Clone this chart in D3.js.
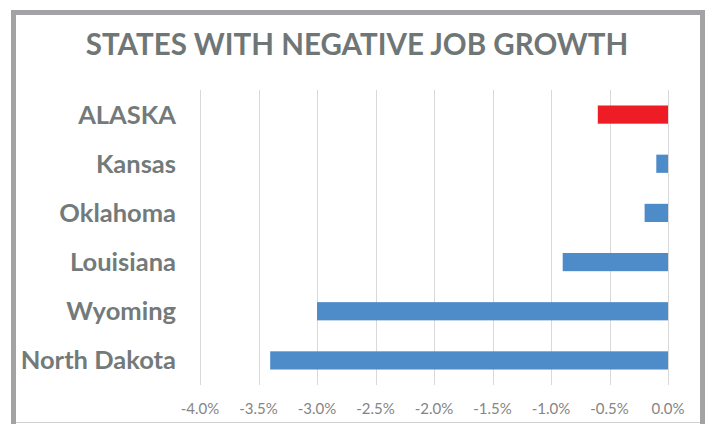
<!DOCTYPE html>
<html lang="en">
<head>
  <meta charset="UTF-8">
  <title>States with Negative Job Growth</title>
  <script src="https://d3js.org/d3.v7.min.js"></script>
  <style>
    * { margin: 0; padding: 0; box-sizing: border-box; }
    body { background: #fff; width: 711px; height: 424px; overflow: hidden; }
    svg { display: block; font-family: Lato, 'Open Sans', sans-serif; }
    .grid line { stroke: #d9d9d9; stroke-width: 1; }
    .tick-label { fill: #858585; font-size: 15px; }
    .cat-label { fill: #737a7a; font-size: 25.5px; font-weight: bold; }
    .title { fill: #6f7676; font-size: 29.5px; font-weight: bold; }
  </style>
</head>
<body>
  <svg id="chart" width="711" height="424"></svg>

  <script>
    const states = ['ALASKA', 'Kansas', 'Oklahoma', 'Louisiana', 'Wyoming', 'North Dakota'];
    const growth = [-0.006, -0.001, -0.002, -0.009, -0.030, -0.034];
    const highlight = ['ALASKA'];
    const ticks = [-0.04, -0.035, -0.03, -0.025, -0.02, -0.015, -0.01, -0.005, 0];

    const data = states.map((s, i) => ({ state: s, value: growth[i] }));

    const width = 711;
    const height = 424;
    const margin = { top: 90, right: 43, bottom: 39, left: 200 };

    const svg = d3.select('#chart');

    // frame
    svg.append('rect')
      .attr('x', 13.5).attr('y', 12.5)
      .attr('width', 689).attr('height', 430)
      .attr('fill', 'none')
      .attr('stroke', '#a3a3a5')
      .attr('stroke-width', 5);
    svg.append('line')
      .attr('x1', 16).attr('x2', 700)
      .attr('y1', 422.5).attr('y2', 422.5)
      .attr('stroke', '#d0d0d0');

    svg.append('text')
      .attr('class', 'title')
      .attr('x', 357).attr('y', 55)
      .attr('text-anchor', 'middle')
      .text('STATES WITH NEGATIVE JOB GROWTH');

    const x = d3.scaleLinear()
      .domain([-0.04, 0])
      .range([margin.left, width - margin.right]);

    const y = d3.scaleBand()
      .domain(states)
      .range([margin.top, height - margin.bottom])
      .paddingInner(0.63)
      .paddingOuter(0.315);

    const plotTop = margin.top;
    const plotBottom = height - margin.bottom;

    svg.append('g')
      .attr('class', 'grid')
      .selectAll('line')
      .data(ticks)
      .join('line')
      .attr('x1', d => Math.round(x(d)) + 0.5)
      .attr('x2', d => Math.round(x(d)) + 0.5)
      .attr('y1', plotTop)
      .attr('y2', plotBottom);

    svg.append('g')
      .selectAll('rect')
      .data(data)
      .join('rect')
      .attr('x', d => x(d.value))
      .attr('y', d => y(d.state))
      .attr('width', d => x(0) - x(d.value))
      .attr('height', y.bandwidth())
      .attr('fill', d => highlight.includes(d.state) ? '#ee1c25' : '#4e8bc9');

    const fmt = d3.format('.1%');
    svg.append('g')
      .selectAll('text')
      .data(ticks)
      .join('text')
      .attr('class', 'tick-label')
      .attr('x', d => x(d))
      .attr('y', 414)
      .attr('text-anchor', 'middle')
      .text(d => fmt(d).replace('−', '-'));

    svg.append('g')
      .selectAll('text')
      .data(states)
      .join('text')
      .attr('class', 'cat-label')
      .attr('x', 176)
      .attr('y', d => y(d) + y.bandwidth() / 2)
      .attr('dy', '0.35em')
      .attr('text-anchor', 'end')
      .text(d => d);
  </script>
</body>
</html>
